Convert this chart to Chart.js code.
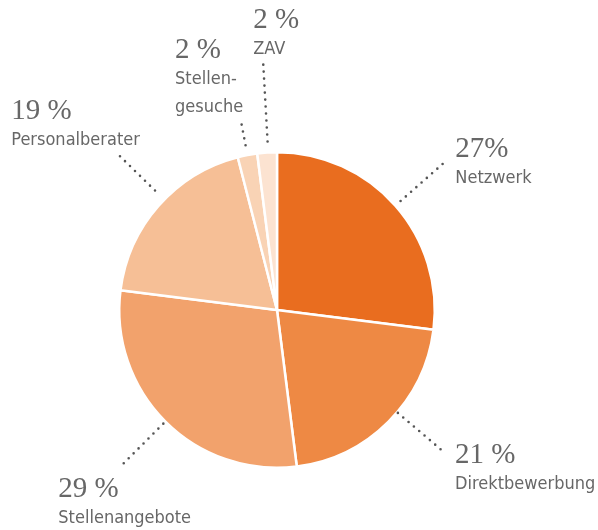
<!DOCTYPE html>
<html>
<head>
<meta charset="utf-8">
<script src="https://cdn.jsdelivr.net/npm/chart.js@4.4.1/dist/chart.umd.min.js"></script>
<style>
  html, body { margin: 0; background: #fff; }
  #wrap { width: 598px; height: 530px; }
</style>
</head>
<body>
<div id="wrap"><canvas id="pie" width="598" height="530"></canvas></div>
<script>
// --- data -------------------------------------------------------------
const categories = ['Netzwerk', 'Direktbewerbung', 'Stellenangebote', 'Personalberater', 'Stellengesuche', 'ZAV'];
const shares     = [27, 21, 29, 19, 2, 2];
const pctLabels  = ['27%', '21 %', '29 %', '19 %', '2 %', '2 %'];
const nameLines  = [['Netzwerk'], ['Direktbewerbung'], ['Stellenangebote'], ['Personalberater'], ['Stellen-', 'gesuche'], ['ZAV']];
const sliceColors = ['#e96d1f', '#ee8944', '#f2a26c', '#f6bf96', '#f9d3b5', '#fce3d1'];

// leader layout: gap beyond rim where dots start/stop, angle nudge (deg),
// text offset (pct baseline) from the outer end of the leader
const leaders = [
  { from: 7,  to: 64, nudge: 0,    dx: 12,   dy: -6 },
  { from: 1,  to: 63, nudge: -4.6, dx: 10,   dy: 10 },
  { from: 3,  to: 61, nudge: 0,    dx: -64,  dy: 32 },
  { from: 13, to: 63, nudge: 3,    dx: -108, dy: -37 },
  { from: 10, to: 34, nudge: 0,    dx: -66,  dy: -64 },
  { from: 11, to: 90, nudge: 0.4,  dx: -10,  dy: -35 },
];

const TEXT = '#676767';
const DOTS = '#555';

const labelPlugin = {
  id: 'leaderLabels',
  afterDatasetsDraw(chart) {
    const ctx = chart.ctx;
    const meta = chart.getDatasetMeta(0);
    meta.data.forEach((arc, i) => {
      const p = arc.getProps(['x', 'y', 'startAngle', 'endAngle', 'outerRadius'], true);
      const L = leaders[i];
      const a = (p.startAngle + p.endAngle) / 2 + L.nudge * Math.PI / 180;
      const r0 = p.outerRadius + L.from, r1 = p.outerRadius + L.to;
      const x0 = p.x + Math.cos(a) * r0, y0 = p.y + Math.sin(a) * r0;
      const x1 = p.x + Math.cos(a) * r1, y1 = p.y + Math.sin(a) * r1;

      ctx.save();
      ctx.strokeStyle = DOTS;
      ctx.lineWidth = 2.6;
      ctx.lineCap = 'round';
      ctx.setLineDash([0, 7]);
      ctx.beginPath();
      ctx.moveTo(x0, y0);
      ctx.lineTo(x1, y1);
      ctx.stroke();
      ctx.setLineDash([]);

      const tx = x1 + L.dx, ty = y1 + L.dy;
      ctx.fillStyle = TEXT;
      ctx.textAlign = 'left';
      ctx.textBaseline = 'alphabetic';
      ctx.font = '29px "Liberation Serif", serif';
      ctx.fillText(pctLabels[i], tx, ty);
      ctx.font = '18px "DejaVu Sans Condensed", "DejaVu Sans", sans-serif';
      nameLines[i].forEach((ln, k) => ctx.fillText(ln, tx, ty + 26 + k * 28));
      ctx.restore();
    });
  }
};

new Chart(document.getElementById('pie'), {
  type: 'pie',
  data: {
    labels: categories,
    datasets: [{ data: shares, backgroundColor: sliceColors, borderColor: '#fff', borderWidth: 2.5 }]
  },
  options: {
    responsive: false,
    animation: false,
    events: [],
    layout: { padding: { left: 118, top: 151, right: 162, bottom: 61 } },
    plugins: { legend: { display: false }, tooltip: { enabled: false } }
  },
  plugins: [labelPlugin]
});
</script>
</body>
</html>
